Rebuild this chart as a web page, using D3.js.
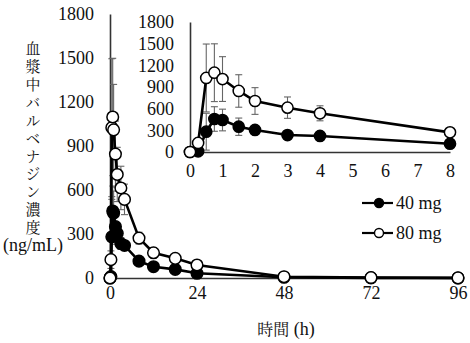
<!DOCTYPE html>
<html><head><meta charset="utf-8">
<script src="https://cdn.jsdelivr.net/npm/d3@7"></script>
<style>
body{margin:0;background:#fff;}
svg{display:block;}
</style></head>
<body>
<svg id="c" width="470" height="343"></svg>
<script>
const times = [0,0.25,0.5,0.75,1,1.5,2,3,4,8,12,18,24,48,72,96];
const mg40 = [0,10,281,457,443,350,305,235,222,115,77,59,32,5,1,0];
const sd40 = [0,20,255,170,150,120,50,40,30,30,20,15,10,2,1,0];
const mg80 = [0,125,1025,1098,1010,845,706,614,536,272,172,134,89,9,3,1];
const sd80 = [0,60,470,400,310,225,185,148,104,40,35,20,12,3,1,0];
const yTicks = [0,300,600,900,1200,1500,1800];
const xTicksMain = [0,24,48,72,96];
const xTicksInset = [0,1,2,3,4,5,6,7,8];
const yTitle = "血漿中バルベナジン濃度";
const yUnit = "(ng/mL)";
const xTitle = "時間";
const xUnit = " (h)";
const seriesNames = ["40 mg","80 mg"];

const SERIF = '"Liberation Serif", serif';
const CJK = '"Noto Serif CJK JP", "Noto Sans CJK JP", serif';
const svg = d3.select("#c");
const series = [
  {name:seriesNames[0], v:mg40, sd:sd40, fill:"#000"},
  {name:seriesNames[1], v:mg80, sd:sd80, fill:"#fff"}
];

function styleAxisText(sel){
  sel.attr("font-family",null).attr("font-size",null);
  sel.selectAll("text").style("font-family",SERIF).style("font-size","18px").attr("fill","#111");
}

function panel(g, x, y, tMax, xTicks, r, xPad) {
  const ax = g.append("g").attr("transform",`translate(${x.range()[0]},0)`)
    .call(d3.axisLeft(y).tickValues(yTicks).tickSize(0).tickPadding(16).tickFormat(d3.format("d")));
  ax.select(".domain").attr("stroke","#333").attr("stroke-width",1.6);
  styleAxisText(ax);
  const bx = g.append("g").attr("transform",`translate(0,${y.range()[0]})`)
    .call(d3.axisBottom(x).tickValues(xTicks).tickSize(0).tickPadding(xPad));
  bx.select(".domain").attr("stroke","#333").attr("stroke-width",1.6);
  styleAxisText(bx);

  const idx = times.map((t,i)=>i).filter(i=>times[i]<=tMax);
  series.forEach(s=>{
    const eb = g.append("g").attr("stroke","#666").attr("stroke-width",1.1);
    idx.forEach(i=>{
      if (s.sd[i] <= 0) return;
      const cx = x(times[i]);
      const y1 = y(s.v[i]+s.sd[i]), y2 = y(Math.max(0,s.v[i]-s.sd[i]));
      eb.append("line").attr("x1",cx).attr("x2",cx).attr("y1",y1).attr("y2",y2);
      eb.append("line").attr("x1",cx-3.5).attr("x2",cx+3.5).attr("y1",y1).attr("y2",y1);
      eb.append("line").attr("x1",cx-3.5).attr("x2",cx+3.5).attr("y1",y2).attr("y2",y2);
    });
  });
  series.forEach(s=>{
    const line = d3.line().x(i=>x(times[i])).y(i=>y(s.v[i]));
    g.append("path").attr("d",line(idx)).attr("fill","none").attr("stroke","#000").attr("stroke-width",2.6);
  });
  series.forEach(s=>{
    g.append("g").selectAll("circle").data(idx).join("circle")
      .attr("cx",i=>x(times[i])).attr("cy",i=>y(s.v[i])).attr("r",r)
      .attr("fill",s.fill).attr("stroke","#000").attr("stroke-width",1.5);
  });
}

const xM = d3.scaleLinear().domain([0,96]).range([110,458]);
const yM = d3.scaleLinear().domain([0,1800]).range([278,14]);
panel(svg.append("g"), xM, yM, 96, xTicksMain, 5.8, 8);

const xI = d3.scaleLinear().domain([0,8]).range([190,450]);
const yI = d3.scaleLinear().domain([0,1800]).range([152,22]);
panel(svg.append("g"), xI, yI, 8, xTicksInset, 5.6, 12);

// y title (vertical)
svg.append("text").attr("x",33).attr("y",41)
  .style("font-family",CJK).style("writing-mode","vertical-rl").style("font-size","15px")
  .style("letter-spacing","2.9px").attr("fill","#111").text(yTitle);
svg.append("text").attr("x",33).attr("y",251).attr("text-anchor","middle")
  .style("font-family",SERIF).style("font-size","18px").attr("fill","#111").text(yUnit);

// x title
const xt = svg.append("text").attr("x",286).attr("y",335).attr("text-anchor","middle").attr("fill","#111");
xt.append("tspan").style("font-family",CJK).style("font-size","16px").text(xTitle);
xt.append("tspan").style("font-family",SERIF).style("font-size","18px").text(xUnit);

// legend
series.forEach((s,i)=>{
  const ly = 203 + i*30;
  svg.append("line").attr("x1",362).attr("x2",393).attr("y1",ly).attr("y2",ly).attr("stroke","#000").attr("stroke-width",2.2);
  svg.append("circle").attr("cx",379).attr("cy",ly).attr("r",4.5).attr("fill",s.fill).attr("stroke","#000").attr("stroke-width",1.4);
  svg.append("text").attr("x",396).attr("y",ly+6).style("font-family",SERIF).style("font-size","18px").attr("fill","#111").text(s.name);
});
</script>
</body></html>
